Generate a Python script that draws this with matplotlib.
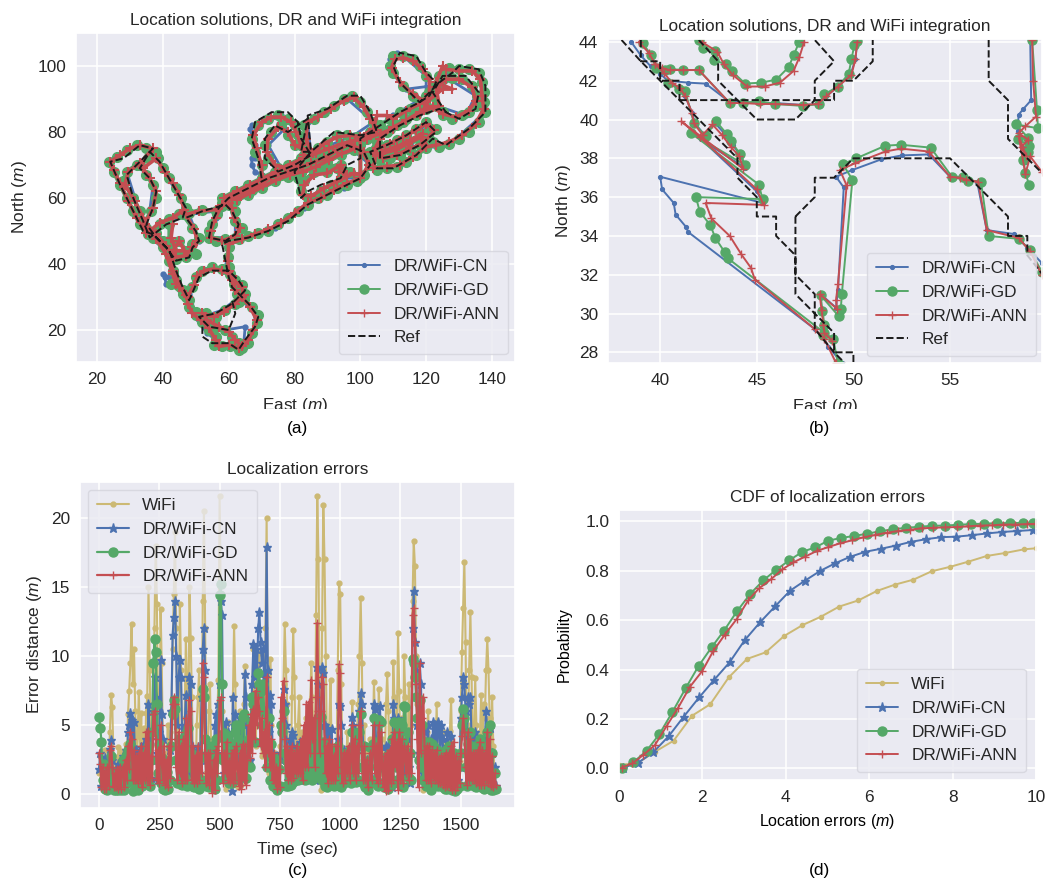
import numpy as np
import matplotlib
matplotlib.use('Agg')
import matplotlib.pyplot as plt
import seaborn as sns
from matplotlib.transforms import Bbox

sns.set_theme(style='darkgrid', color_codes=True)
plt.rcParams['font.family'] = ['Liberation Sans', 'DejaVu Sans']
plt.rcParams['mathtext.fontset'] = 'custom'
plt.rcParams['mathtext.it'] = 'Liberation Sans:italic'
plt.rcParams['mathtext.rm'] = 'Liberation Sans'

# a nan row cuts a track into separate pieces
nan = (np.nan, np.nan)

# panel a, whole route (east, north)
gd_a = [(63,14),(60.5,15),(58,15),(55.5,15.5),(56,18),(54,20),(52,22.5),(50,24.5),(48,27),(47,30),(49,33),(50,36),(52,38),(55,39),(58,38.5),(60.5,37),(62,35),(64,33.5),(65,31),(63,28.5),(62,28),(59,26),(56,24),(53,25),(50,25.5),
        (53,23),(56,21),(59,20),(61,18),(63,16),(64,14.5),(66,16),(67,19),(68.5,22),(69,24.5),(67,27),(64.5,29.5),(62.5,31),(61.5,34),(60.5,37),(60,39),(59.8,42),(60,45),(60,47),
        (63,47.5),(66,48.5),(69,49.5),(72,50),(75,52),(78,54),(81,56),(84,58),(87,60),(90,61),(93,63),(96,64),(99,65),(101,67),(103,70),(102,73),(100,76),
        (97,76),(94,75),(91,73),(88,72),(85,70),(82,69),(79,68),(76,67),(73,66),(70,64),(67,62.5),(64,61.5),(61,60.5),(58,58.5),(56.5,55),(55,52),(54,50),(54,48),(56,47),(59,47.5),(62,48),(64,51),(62,53),(62,56),(60,58),(62,60.5),(64.5,62),
        (61,60),(58,57.5),(56,56),(52,56.5),(48,55.5),(46,55),(49,51),(51,48),(49,46),(50,43),(47,42),(44,41.5),(42,44),(40,47),(38,49.5),(35.5,49),
        (33,52),(31,56),(29,60),(27,64),(25,68),(23.5,71),(26,72.5),(29,74.5),(32,76),(35,75),(38,74),(35.5,72),(32,70),(29,68),(28,65),(31,60),(33,56),(35,51),(37,49),(39,52),(42,53.5),(45,55),(47,57),(45.5,60),(44,63),(42,66),(40,69),(38.5,72),(36,74),
        (33,70),(35,67),(37,64),(38,60),(36.5,56),(34,52),(37,48),(40,45),(42,41),(43,38),(44,35),(42.5,34),(46,31),(48,29),(46,32),(43,38),(42,43),(45,47),(47,44),(45,43),(42,47),(42,52),nan,
        (70,64),(70,70),(68,74),(67,78),(69,82),(72,84),(75,85),(78,84),(80,82),(81,79),(82,76),(83,73),(84,71),(81,69),(78,68.5),(75,69),(72,72),(71,76),(73,80),(76,82),(78,79),(80,76),
        (85,73),(83,76),(83,82),(86,84),(89,86),(92,88),(95,90),(97.5,91),(100,89),(102,86),(104,83),(105,80),(102,78),(99,78.5),(96,79),(93,79),(90,77),(87,75),(85,73),
        (81,68),(81,66),(82,62),(84,60),(88,62),(91,64),(94,66),(93,69),(90,68),(86,68),(83,65),(87,69),(94,70),(97,68),(100,66),
        (100,78),(103,80),(106,82),(109,84),(112,86),(115,87),(118,89),(120,91),(122,94),(120,97),(118,100),(116,102),(113,103),(110,103),(109,100),(110,98),(113,94),(116,91),(119,89),
        (121,92),(124,97),(127,99.5),(130,99),(133,99),(136,98),(137,95),(137.5,92),(137.5,89),(138,86),(136,83),(133,80),(130,78),(127,76.5),(124,75.5),(122,77),(120,75),(117,73),(114,71),(111,69.5),(108,69),(105,68.5),(103,70),
        (105,74),(108,76),(111,77.5),(114,79),(117,81),(120,83),(123,81),(121,78),(118,76),(115,74.5),(112,73),(109,72),(106,71.5),(103,74),(105,77),(108,80),(111,82),(114,84),(117,85),(120,87),(123,88),(125,85),(128,84),(131,85),(133,86),(135,88),(135.5,91),(134,94),(131,96),(128,96.5),(125,96),(123,94),(122,91),(125,86),nan,
        (58,60),(62,62),(66,64),(70,66),(74,68),(78,70),(82,72),(86,73),(90,74.5),(94,76),(98,77),(101,78),(105,79),(109,81),(113,83),(117,86),(120,88),nan,
        (62,59),(66,61),(70,63),(74,65),(78,66.5),(82,67.5),(86,69),(90,71),(94,73),(98,74.5),nan,
        (107,74),(110,75),(114,77),(118,79),(121,81),nan,(106,73),(110,74),(114,76),(118,78)]
ann_a = [(63,14.5),(60,15.5),(57,15),(56,17),(54,20.5),(51.5,23),(49,25),(47.5,28),(47.5,30),(49.5,33.5),(50.5,36.5),(52.5,38),(55.5,38.5),(58,38),(61,36.5),(62,34.5),(64,33),(64.5,30.5),(62,28),(58.5,25.5),(55.5,24),(52,25),
         (53.5,23),(57,21),(60,19.5),(62,17),(64,15),(66,17),(67.5,20),(68.5,23),(66.5,27),(64,30),(62,32),(61,35),(60,38),(59.7,41),(60,46),
         (64,47.5),(68,49),(72,50.5),(76,52.5),(80,55.5),(84,58.5),(88,60),(92,62.5),(96,64.5),(100,66),(102.5,70),(101,74),(97,76.5),(93,74.5),(89,72),(85,70.5),(81,69),(77,67.5),(73,66.5),(69,63.5),(65,62),(61,60),(58,58),(56,54),(54.5,50),(54.5,48),(58,47),(62,48.5),(63.5,51),(61.5,54),(61,57),(60,58.5),
         (56,56.5),(51,56),(47,55),(49.5,50.5),(50.5,47),(49,45),(47,42.5),(43.5,42),(41,45.5),(38,49),(35,49.5),
         (32,54),(29.5,59),(27,64.5),(25,68.5),(24,71),(27,73),(30,75),(33,76),(37,75),(33,70.5),(29.5,68),(28.5,64),(31.5,59),(34,54),(36,50),(39,52.5),(43,54),(46.5,56.5),(45,61),(43,64.5),(40.5,68),(38,72),
         (34,69),(36,66),(38,62),(37,57),(34.5,52),(38,47.5),(41,43),(43,37),(44,34),(45,33),(47,30.5),(43,38),(42.5,43),(45,47),(46.5,44),(44,44),(42.5,48),(43,52),nan,
         (70,65),(70,70),(68.5,75),(67.5,79),(70,83),(73,84.5),(76,84.5),(79,83),(80.5,80),(82,76),(83,73),(82,70),(78,69),(74,70),(71.5,74),(72,78),(75,81.5),(78,80),(80,76),
         (85,74),(83.5,78),(84,83),(87,84.5),(91,87),(95,89.5),(98,90.5),(101,87.5),(103,84),(105,80.5),(101,78.5),(97,79),(93,78.5),(89,76.5),(85.5,73.5),nan,
         (94,70),(96,67),(93.5,68),(94,70),(90,67.5),(86,67),(83,64),(82.5,61),(85,60.5),(89,63),(93,65),(98,67.5),(100,67),
         (100,78.5),(104,81),(105,85),(108,85),(110,84),(114,86.5),(118,88.5),(121,91.5),(121,96),(119,99),(116,101.5),(113,102.5),(110.5,102),(109.5,99.5),(112,95),(116,91.5),(120,89),(125,93),(128,93),(123,95),
         (125,100),(126,99),(130,98.5),(134,98.5),(136.5,96),(137,91),(137.5,87),(135,82.5),(131,79),(127,77),(123,76),(120,75.5),(116,72.5),(112,70),(108,69.5),(104,69),
         (105,75),(109,76.5),(113,78.5),(117,80.5),(120,82.5),(122.5,80.5),(119,76.5),(115,75),(111,73),(107,72),(104,74),(106,78),(110,81.5),(114,83.5),(118,85.5),(122,87.5),(125,85.5),(129,84.5),(133,86.5),(135,89.5),(134,93.5),(130,96),(126,96),(123,93.5),(124,88),nan,
         (58.5,60),(62.5,62),(66.5,64),(70.5,66),(74.5,68),(78.5,70),(82.5,72),(86.5,73.5),(90.5,75),(94.5,76.5),(98.5,77.5),(102,78),(106,79.5),(110,81),(114,83.5),(118,86),(120.5,88),nan,
         (62.5,59.5),(66.5,61.5),(70.5,63.5),(74.5,65.5),(78.5,67),(82.5,68),(86.5,69.5),(90.5,71.5),(94.5,73.5),(98.5,75),nan,
         (107.5,74.5),(111,75.5),(115,77.5),(119,79.5),nan,(106.5,73.5),(110.5,74.5),(114.5,76.5),(118.5,78.5)]
cn_a = [(63,14),(58,15.5),(53.5,19),(48,26),(48,31),(51,37),(57,38.5),(62,35),(64.5,31),(58,26),(52,24),nan,(54,21),(59,20),(65,21),(64.5,15),(68,21),(68,25),(63,30),(60,37),(59.5,40),(60,46),(66,48),(74,51),(83,57),(91,62),(95,63),(99,65),(103,70),(96,76),(84,70),(72,66),(62,60),(56,54),(54.5,48),(62,48),(62,56),nan,
        (56,56),(48,55),(51,47),(44,41.5),(35,49),(29,60),(24,71),(32,76),(38,74),(29,68),(34,52),(36,49),(46,55),(47,57),(38,72),nan,(37,64),(36,56),nan,(40,45),(44,36),(42,36),(40,37),(40.5,36),(41,34),(44,35),(47,30),nan,
        (70,67),(68,68),(67,70),(67,72),(68,72),nan,(68,76),(67,79),(66.5,81),(67,82),(69,82),(76,85),(81,80),(84,71),(76,69),(72,76),(77,81),nan,(85,73),(84,83),(96,90),(104,83),(98,79),(86,74),nan,(84,60),(94,66),(100,66),nan,
        (100,78),(110,85),(120,91),(120,97),(113,103),(111,104),(109,102),(109,99),(114,93),(122,94),(128,99),(136,98),(138,86),(128,77),(122,76),(112,70),(104,69),nan,(104,74),(112,77),(120,83),(115,75),(105,72),nan,(105,77),(112,83),(123,88),(132,85),(135,91),(127,96),(123,92)]
ref_a = [(52,21),(52,18),(55,16),(60,16),(63,14),(65,17),(68,21),(69,24),(66,28),(63,31),(61,33),(60,36),(59,41),(58,46),(60,47),(66,48),(72,50),(78,53),(84,58),(90,61),(96,64),(100,66),(103,70),(101,74),(96,76),(90,73),(84,70),(78,68),(72,66),(66,63),(60,60),(57,57),(55,53),(54,48),(59,47),(62,49),(63,52),(61,56),(59,58),(52,56),(47,54),(50,50),(51,47),(49,45),(48,42),(44,41),(41,45),(37,49),(34,50),(31,56),(27,64),(24,71),(28,72),(33,76),(37,75),(32,70),(29,67),(31,60),(34,53),(36,48),(41,52),(46,54),(47,57),(43,64),(39,71),(36,74),(33,69),(36,66),(38,62),(37,57),(35,52),(38,48),(42,44),(44,38),(46,33),(48,29),(51,36),(55,38),(60,38),(63,35),(65,32),(61,28),(56,25),(51,24),(54,21),(60,20),(62,25),(61,29),nan,
         (70,66),(69,72),(67,78),(68,83),(73,86),(78,86),(81,83),(82,78),(85,73),(80,70),(75,68),(71,72),(71,78),(74,82),(78,80),(84,84),(82,74),(85,74),(84,85),(90,87),(96,91),(100,91),(103,86),(105,80),(100,79),(92,80),(85,74),(80,68),(82,60),(84,62),(88,64),(94,66),(96,70),(100,72),(100,78),(106,82),(112,86),(118,89),(121,91),(123,95),(120,98),(117,103),(112,104),(110,100),(112,95),(118,89),(124,95),(128,98),(130,100),(136,99),(138,94),(138,86),(133,81),(126,76),(122,78),(117,73),(110,69),(105,69),(103,74),(108,76),(114,79),(120,83),(123,80),(118,76),(112,73),(106,72),(106,78),(112,82),(118,85),(124,87),(130,84),(135,87),(136,92),(132,97),(125,97),(122,92),(126,86)]

# panel b, zoomed tracks
cn_b = [(50.2,44),(50.1,43.1),(49.85,42.3),(49.2,41.7),(48.6,41.2),(48.15,40.8),(47.4,40.75),(45.95,40.85),(45.1,40.85),(44.3,40.9),(43.6,40.9),(42.35,41.85),(41.45,41.9),(40.4,42.0),(40,42.35),(39.5,42.75),(39,43.3),(38.5,44),nan,
        (40.4,42),(41,41.5),(41.3,41.2),(41.65,40.35),(41.8,39.8),(42.3,39.2),(42.85,39.8),(43.4,39.2),(43.75,38.7),(44.2,38.1),(44.4,37.5),(41.6,39.3),(42.1,39),(45,36.3),(45.3,35.7),(40,37.05),(40.1,36.4),(40.7,35.7),(40.8,35.1),(41.35,34.45),(41.45,34.2),(48,29.2),(48.4,28.8),(48.7,28.3),(49.4,27.45),nan,
        (48.3,31),(49.1,30.3),(49.2,31.2),(49.5,36.5),(49.1,37.05),(49.95,37.4),(51.45,37.95),(52.5,38.15),(53.9,38.2),(55,37.05),(55.6,36.95),(56.4,36.8),(56.9,34.3),(58.3,34.1),(59,33.4),(59.75,32.6),nan,
        (59.15,44.1),(59.2,41),(58.8,40.55),(58.55,40.25),(58.5,39.4),(58.7,38.6),(59,38.2),(58.9,37.8)]
gd_b = [(47.2,44),(46.9,43.3),(46.65,42.7),(46,42.05),(45.2,41.9),(44.4,41.85),(43.7,42.5),(43.4,42.85),(42.8,43.05),(42.85,43.55),(42.2,43.7),(42,44.1),nan,
        (50.2,44.05),(50.05,43.85),(49.9,43.1),(49.75,42.35),(49.2,41.7),(48.5,41.3),(48.2,40.8),(47.4,40.7),(45.95,40.8),(45.1,40.95),(44.3,40.85),(43.6,40.85),(42,42.55),(41.2,42.55),(40.5,42.6),(40.25,42.55),(39.8,42.65),(39.5,43.35),(39.1,43.95),nan,
        (40.4,41.9),(41,41.55),(41.3,41.45),(41.75,39.8),(42.35,39.15),(42.9,39.9),(43.45,39.25),(43.65,38.9),(44.15,38.2),(44.4,37.65),(41.6,39.3),(45.1,36.65),(45.3,35.9),(41.85,36),(42.05,35.25),(42.6,34.55),(42.85,33.9),(43.35,33.15),(43.5,32.85),(48.5,29),(48.95,28.7),(49.2,27.45),nan,
        (48.45,28.9),(48.5,29.4),(48.4,30.15),(48.3,30.95),(49.25,29.85),(49.35,30.25),(49.4,31),(49.95,36.9),(49.45,37.7),(50.15,38),(51.65,38.65),(52.45,38.7),(54,38.55),(55.1,37.05),(55.65,37.05),(55.95,36.85),(56.6,36.8),(57,34),(58.55,33.85),(59.15,33.25),(59.75,32.15),nan,
        (59.25,44.1),(59.5,40.5),(59.55,39.55),(58.4,39.75),(59.05,39.05),(58.5,39),(59.1,38.65),(59.05,38.35),(58.8,37.9),(58.9,37.25),(59.1,36.6)]
ann_b = [(47.45,44),(47.2,43.2),(46.9,42.5),(46.2,41.9),(45.4,41.7),(44.5,41.7),(43.75,42.3),(43.3,42.85),(42.95,43.5),(42.15,44),nan,
         (50.2,44),(50.1,43.1),(49.9,42.3),(49.2,41.7),(48.6,41.2),(48.15,40.8),(47.4,40.75),(45.95,40.8),(45.15,40.8),(44.3,40.85),(43.6,40.85),(42,42.55),(41.2,42.55),(40.5,42.55),(40.1,42.65),(39.75,42.85),(39.4,43.45),(38.9,44),nan,
         (39.75,42.85),(40.2,42.4),(40.6,41.9),(41.05,41.6),(41.3,41.2),(41.65,40.35),(41.75,39.8),(42.2,39.2),(42.7,39.75),(43.2,39.2),(43.65,38.6),(44.1,38.1),(44.3,37.45),(41.1,39.9),(42.05,39.1),(45,36.4),(45.35,35.6),(42.35,35.7),(42.65,34.9),(43.6,34),(44.2,33.05),(44.7,32.35),(44.9,31.75),(48,29.2),(48.5,28.7),(49.1,27.45),nan,
         (48.9,28.6),(48.5,29),(48.45,29.4),(48.35,30.2),(48.25,31),(49.15,30.25),(49.1,30.7),(49.2,31.5),(49.65,36.6),(49.3,37.4),(50.1,37.75),(51.65,38.35),(52.45,38.5),(53.9,38.35),(55,37.05),(55.5,37),(55.85,36.9),(56.45,36.8),(56.9,34.3),(58.55,33.9),(59.15,33.2),(59.75,32),nan,
         (59.25,44.1),(59.3,42),(59.45,40.15),(58.9,39.65),(58.55,39.3),(59.05,38.95),(58.7,38.6),(58.95,38.1),(58.55,39.15),(58.9,37.2),(59.15,38.1),(59.75,37.3)]
ref_b = [(38,44.1),(39,43),(40,42),(41,41),(42,40),(43,39),(44,38),(44,37),(45,36),(45,35),(46,35),(46,34),(47,33),(47,31),(48,30),(49,29),(49,28),(50,28),(50,27.4),nan,
         (47,35),(48,36),(48,37),(49,37),(50,38),(55,38),(58,35),(58,34),(59,34),(59,33),(59.8,32),nan,
         (47,35),(47,32),(48,31),(48,29.2),(49,28),(49.6,27.4),nan,
         (42,44.1),(43,43),(43,42),(44,41),(45,40),(47,40),(48,41),(48,42),(49,43),(48,44.1),nan,
         (41,41),(49,41),(49,42),(50,42),(51,43),(51,44.1),nan,
         (39,44.1),(39,43),(40,43),(40,42),(41,42),(41,41),nan,
         (57,44.1),(57,42),(58,41),(58,39),(59.8,37.2)]

# panel c, error in metres, one value every 5 s, one row = 100 s
wifi_err = [1.5,2.8,0.6,2.2,0.9,3.2,0.3,2.6,1.2,4.5,7.2,6.3,2.4,0.5,2.7,1.1,3.4,0.6,3.1,0.8,
            2.9,0.5,3.6,1.5,5.8,7.5,9.5,12.3,8.0,10.5,6.0,2.3,4.2,7.4,3.0,5.9,1.2,4.8,2.1,5.9,
            7.1,15.0,9.0,3.5,1.0,6.5,12.0,18.0,13.8,5.0,2.2,13.4,9.5,3.0,1.5,0.6,2.4,5.0,1.0,4.5,
            6.0,10.5,14.5,19.0,12.0,3.5,0.6,13.8,9.0,2.8,0.7,5.5,11.2,8.0,3.4,15.0,11.3,7.0,2.0,1.0,
            0.4,5.0,7.0,9.0,3.2,1.0,14.0,20.5,12.0,1.5,3.0,6.0,8.0,3.0,0.5,3.0,0.6,2.5,5.5,8.3,
            21.6,14.0,6.0,1.0,3.5,0.4,3.0,5.2,0.8,3.2,1.0,7.0,12.2,8.0,2.0,0.5,2.2,6.0,0.7,3.0,
            6.5,9.3,5.0,1.0,4.5,2.5,4.0,7.0,10.5,6.0,3.5,8.0,9.5,10.2,6.0,2.8,5.0,3.5,12.0,20.0,
            6.0,1.5,9.8,5.0,2.0,0.7,3.0,0.5,1.5,0.6,3.5,2.8,5.2,8.0,12.3,9.0,6.5,1.2,4.0,0.5,
            7.0,11.9,8.5,3.5,1.5,5.0,7.0,2.0,4.5,1.0,3.0,1.2,5.5,2.0,4.2,6.0,9.5,7.0,3.0,1.0,
            13.0,21.6,17.0,6.0,0.3,12.0,20.9,17.0,10.0,3.5,1.0,5.0,8.3,2.5,0.6,3.5,1.5,3.0,9.0,15.3,
            14.5,8.0,1.0,3.0,0.8,2.4,4.5,1.2,3.5,1.0,6.7,3.0,1.5,4.0,4.6,6.5,10.0,14.2,9.5,2.5,
            5.0,1.2,3.0,0.3,2.0,4.0,1.0,3.5,8.1,5.0,0.5,3.0,7.6,5.5,1.5,4.0,0.8,2.6,6.5,8.7,
            6.0,1.5,5.0,0.6,9.6,7.0,3.0,5.0,11.7,7.5,2.0,5.5,1.0,10.0,7.0,2.5,3.5,8.0,1.0,5.0,
            14.0,18.3,16.5,10.0,6.5,3.0,7.0,1.5,4.0,0.3,2.6,1.0,4.5,6.0,2.0,0.3,3.5,1.0,5.0,2.0,
            6.5,2.8,4.5,0.8,3.0,1.5,4.5,0.6,2.0,3.5,1.0,4.6,6.8,3.0,0.5,2.0,1.0,3.0,0.7,2.4,
            6.0,10.3,13.5,16.8,11.0,2.0,5.0,9.0,13.2,8.5,2.6,4.0,8.4,5.0,1.5,3.5,4.5,7.2,3.0,6.5,
            5.5,9.0,11.2,9.0,5.5,2.0,7.0,3.5,1.5,0.5]
cn_err = [1.8,3.0,0.6,2.4,0.8,2.6,0.5,2.2,1.0,3.3,3.9,2.5,1.0,0.4,1.8,0.6,2.2,0.5,1.9,0.7,
          2.8,0.6,3.2,1.5,4.5,5.0,5.9,5.4,3.4,5.2,2.0,3.2,1.0,3.0,1.5,3.4,0.8,3.6,1.2,4.0,
          3.0,6.5,4.0,1.2,2.5,6.0,8.5,7.0,3.0,1.0,4.5,9.7,5.8,4.0,1.0,0.6,2.0,1.0,2.6,3.2,
          6.0,11.5,12.8,14.0,10.0,5.0,8.5,9.7,8.5,4.0,1.5,5.0,7.2,4.5,1.5,8.5,8.0,3.5,1.0,2.5,
          0.8,2.8,3.4,1.5,3.0,7.0,10.5,12.0,9.0,2.5,1.2,3.0,1.0,3.0,0.7,2.5,5.0,5.8,3.0,6.5,
          8.0,14.0,13.0,4.5,1.5,5.2,3.0,4.5,1.0,3.0,0.2,7.0,5.0,5.8,3.0,4.8,1.0,5.5,1.2,3.0,
          5.0,8.7,7.0,3.5,4.0,2.5,5.5,8.0,10.9,8.5,10.5,9.0,12.0,13.2,11.0,9.5,10.5,8.0,8.5,17.9,
          9.0,4.5,7.2,6.5,3.0,1.2,2.5,0.6,2.0,0.5,3.0,2.5,5.0,7.6,6.5,5.0,3.0,1.0,4.0,1.5,
          4.5,4.3,3.0,1.5,3.5,1.2,2.5,3.8,2.0,3.5,1.0,3.0,1.5,2.8,4.0,1.0,1.5,2.5,4.5,1.0,
          4.0,9.2,8.0,5.0,2.0,9.2,8.8,5.0,3.0,4.8,1.0,4.5,1.5,4.7,1.0,3.0,1.2,2.0,4.0,6.5,
          6.4,5.0,1.0,3.2,0.9,2.5,1.2,3.0,1.2,2.5,5.6,5.0,1.5,3.0,4.0,2.0,6.0,7.3,6.5,3.5,
          2.0,1.0,2.5,0.7,1.8,3.5,1.2,3.0,6.5,6.2,3.0,1.0,5.5,6.4,3.5,2.5,0.6,2.0,3.5,1.5,
          3.5,1.0,3.0,0.5,6.5,5.5,3.0,4.5,5.5,3.5,1.0,4.0,0.7,3.5,1.5,3.0,4.0,2.0,0.8,3.0,
          12.0,14.7,11.0,9.0,5.0,3.0,9.5,8.0,4.0,1.5,4.5,1.0,3.5,5.0,1.5,4.0,1.0,5.2,3.0,5.0,
          3.0,5.2,4.5,2.5,5.0,4.0,2.0,1.0,3.5,4.5,3.0,2.0,4.2,1.5,0.5,2.0,0.8,2.5,1.0,2.0,
          5.5,7.0,8.5,8.0,6.0,3.0,7.0,6.5,7.0,4.0,1.5,3.0,4.5,3.0,1.2,2.5,3.0,2.2,1.0,3.5,
          4.0,6.0,4.5,3.0,4.8,1.0,3.0,1.5,2.0,0.6]
gd_err = [5.6,4.8,3.8,1.0,2.2,0.4,1.8,0.3,1.5,0.6,2.8,1.0,0.3,1.5,0.3,1.4,0.3,1.6,0.3,1.2,
          2.5,0.3,2.8,0.8,3.2,1.0,3.6,1.5,0.2,2.2,0.4,2.4,0.3,1.6,0.8,2.6,0.6,2.4,1.0,3.0,
          1.0,3.5,0.6,2.5,4.5,9.5,11.2,10.3,6.5,1.5,3.6,0.8,2.6,0.4,2.2,0.3,1.6,0.4,2.4,1.0,
          3.5,5.8,6.8,6.2,2.5,0.8,4.0,1.0,3.0,0.7,3.6,1.2,4.4,0.6,4.8,2.0,3.0,0.6,2.8,0.5,
          2.2,0.5,2.8,0.4,2.6,1.0,7.6,7.0,4.0,0.6,3.0,0.5,2.8,3.5,0.8,2.4,0.4,4.0,1.0,2.6,
          14.4,15.2,8.0,2.5,4.4,1.2,2.8,4.2,0.8,3.0,0.8,3.6,1.0,4.5,5.0,4.0,5.0,1.4,3.2,5.6,
          5.8,3.4,1.2,2.2,4.0,2.0,5.2,7.0,6.5,3.8,7.2,6.0,8.8,8.0,7.5,5.0,8.0,6.0,3.5,2.0,
          2.8,5.5,1.0,3.6,0.6,2.6,0.5,2.4,0.3,1.8,0.6,5.0,4.5,6.0,3.0,0.6,2.4,0.6,3.0,0.7,
          3.0,0.9,2.6,1.0,3.0,1.0,2.8,1.2,3.4,1.2,3.0,1.0,3.4,1.5,3.5,1.2,3.6,1.0,5.0,1.3,
          4.5,1.3,5.5,1.2,5.6,1.0,3.8,0.6,3.0,0.5,2.5,0.7,3.2,0.8,2.0,0.6,2.5,0.7,3.5,1.0,
          3.0,0.5,2.8,0.8,2.6,1.0,3.0,1.0,3.2,0.8,4.5,1.0,3.6,0.9,4.0,1.0,4.5,5.8,2.0,0.8,
          3.5,0.5,2.4,0.3,2.0,3.4,0.8,3.6,5.5,1.0,3.8,0.6,5.4,0.8,5.2,2.0,0.5,2.4,0.5,2.8,
          0.4,3.0,0.7,4.0,1.0,5.2,2.0,4.6,0.8,5.2,1.2,5.0,0.5,6.4,6.3,2.5,4.5,1.2,3.0,1.0,
          9.8,9.5,8.5,7.0,5.5,2.5,6.8,2.0,5.0,1.0,3.8,0.6,3.0,0.8,3.8,0.3,3.6,1.0,3.4,0.8,
          3.2,0.6,2.8,0.7,2.6,0.5,2.4,0.4,3.2,0.4,3.5,0.6,2.8,0.3,3.0,0.2,2.5,0.4,2.0,0.6,
          3.0,5.0,6.2,5.5,2.0,0.6,3.6,0.8,4.5,1.0,3.0,0.6,3.5,0.5,2.8,0.6,4.0,0.5,3.0,0.4,
          3.5,0.7,4.5,0.5,5.0,0.3,3.0,0.3,1.5,0.4]
ann_err = [3.0,2.2,0.5,2.0,0.4,1.7,0.4,2.0,0.6,3.2,3.5,2.0,0.5,1.5,0.5,1.8,0.4,2.0,0.4,1.6,
           2.0,0.5,2.5,1.0,3.5,1.8,4.5,4.0,1.0,3.2,1.0,2.8,0.8,3.0,1.0,3.5,0.5,3.0,1.0,4.5,
           1.0,4.6,0.7,2.8,1.2,5.8,6.0,4.0,1.0,3.2,0.8,5.0,2.4,1.0,3.5,0.7,2.5,0.5,3.5,1.2,
           4.0,6.5,7.0,6.5,2.0,1.0,4.5,1.5,3.5,0.8,4.0,1.0,5.5,1.0,5.0,6.8,6.0,1.0,3.5,0.8,
           2.8,0.8,3.5,1.0,3.0,1.5,9.5,8.5,3.0,0.8,3.0,0.7,3.0,1.5,0.1,2.5,0.3,3.2,1.5,3.5,
           6.8,7.0,3.0,0.8,3.0,1.5,3.8,1.0,2.4,0.9,3.0,0.8,3.2,1.0,3.5,2.0,0.6,3.0,0.4,3.6,
           1.0,3.5,0.7,2.5,5.0,2.6,5.8,3.0,6.2,4.0,7.5,5.0,7.0,6.0,3.5,5.5,3.0,4.5,2.0,8.5,
           3.0,5.0,2.0,4.0,1.0,3.0,0.8,2.0,0.4,1.8,0.5,7.0,5.5,8.2,4.0,1.5,3.5,1.0,3.2,1.0,
           3.5,1.2,3.0,1.5,3.5,1.5,3.2,1.5,4.0,1.0,5.0,2.0,6.5,2.0,6.7,3.0,8.3,4.0,5.5,2.0,
           7.0,12.4,6.0,3.0,6.0,8.5,8.0,4.0,1.5,3.5,0.8,4.0,1.0,3.6,1.0,2.8,1.0,3.5,1.5,9.4,
           8.8,2.0,0.8,3.0,1.0,3.0,1.5,3.5,1.0,2.6,5.0,1.5,4.0,1.0,3.5,1.5,5.0,6.0,3.0,1.0,
           3.5,1.0,2.5,0.5,2.0,3.0,1.0,3.5,5.0,1.5,3.5,0.8,5.0,1.0,4.5,2.0,0.5,2.8,0.2,3.0,
           0.3,3.2,0.8,4.0,1.0,4.5,2.0,3.8,0.3,4.5,1.0,4.0,0.8,3.5,3.0,1.5,3.5,1.0,3.0,1.5,
           13.0,13.5,11.0,8.0,4.0,0.5,9.5,3.0,5.5,7.0,3.2,1.0,3.5,1.0,3.5,0.8,3.2,1.2,3.0,1.0,
           3.2,0.8,2.6,0.8,2.8,0.7,2.8,0.5,3.0,0.6,3.0,0.5,3.5,0.3,3.8,0.3,2.8,0.5,2.4,0.8,
           3.0,4.2,5.5,4.5,2.0,0.7,4.5,1.0,4.0,1.0,3.0,1.0,3.0,0.8,3.2,0.7,3.8,0.7,3.2,0.7,
           3.0,1.0,4.5,0.8,4.0,0.6,2.8,0.5,1.5,0.7]

# panel d, cdf
wifi_x = [0,0.43,0.86,1.31,1.75,2.19,2.63,3.07,3.52,3.96,4.40,4.84,5.28,5.74,6.18,6.62,7.06,7.50,7.94,8.38,8.82,9.26,9.72,10.0]
wifi_p = [.015,.02,.067,.112,.213,.26,.368,.443,.47,.536,.58,.614,.655,.68,.718,.744,.764,.798,.816,.837,.86,.872,.887,.891]
cn_x = [.10,.46,.82,1.19,1.55,1.92,2.28,2.65,3.01,3.38,3.75,4.10,4.46,4.82,5.18,5.55,5.91,6.28,6.64,7.00,7.37,7.73,8.09,8.46,8.82,9.19,9.55,9.92]
cn_p = [.003,.023,.065,.130,.209,.287,.358,.429,.518,.591,.657,.719,.760,.799,.830,.857,.877,.889,.902,.917,.928,.936,.938,.944,.951,.957,.961,.965]
gd_x = [.06,.34,.66,.97,1.28,1.60,1.91,2.22,2.52,2.83,3.15,3.46,3.77,4.08,4.40,4.71,5.02,5.33,5.64,5.95,6.26,6.57,6.89,7.19,7.50,7.81,8.13,8.44,8.75,9.06,9.38,9.68,9.94]
gd_p = [0,.024,.071,.139,.228,.325,.415,.490,.558,.636,.707,.761,.804,.842,.877,.895,.922,.933,.941,.950,.960,.968,.974,.978,.982,.983,.986,.989,.990,.993,.993,.994,.994]
ann_x = [.06,.32,.58,.86,1.14,1.42,1.70,2.0,2.26,2.54,2.82,3.10,3.36,3.64,3.92,4.18,4.46,4.74,5.02,5.30,5.58,5.86,6.14,6.42,6.70,6.98,7.26,7.54,7.82,8.10,8.38,8.66,8.94,9.22,9.50,9.78,9.98]
ann_p = [.003,.020,.054,.094,.171,.246,.330,.395,.475,.542,.604,.681,.729,.765,.806,.834,.857,.880,.896,.911,.923,.935,.945,.954,.961,.966,.972,.974,.976,.977,.980,.983,.984,.987,.987,.989,.990]

W, H = 1050, 882
fig = plt.figure(figsize=(W / 100, H / 100), dpi=100, facecolor='white')

def new_axes(left, top, right, bottom):
    return fig.add_axes([left / W, 1 - bottom / H, (right - left) / W, (bottom - top) / H])

def track(ax, pts, fmt, label, **kw):
    pts = np.array(pts, dtype=float)
    ax.plot(pts[:, 0], pts[:, 1], fmt, label=label, **kw)

CN = dict(lw=1.4, ms=5.5)
GD = dict(lw=1.4, ms=6.5)
ANN = dict(lw=1.4, ms=6, mew=1)
FS = 12.4

def dress(ax, title, xlabel, ylabel, legend_at, xpad, ypad, size=FS, color='.15'):
    ax.grid(True, color='white', lw=1.1)
    ax.tick_params(labelsize=FS, length=0, pad=7, colors='.15')
    ax.set_title(title, fontsize=FS, color='.15', pad=6)
    ax.set_xlabel(xlabel, fontsize=size, color=color, labelpad=xpad)
    ax.set_ylabel(ylabel, fontsize=size, color=color, labelpad=ypad)
    anchor = (legend_at[0] / W, 1 - legend_at[1] / H)
    leg = ax.legend(loc='lower left', bbox_to_anchor=anchor, bbox_transform=fig.transFigure,
                    fontsize=FS, frameon=True, framealpha=0.8, borderaxespad=0, borderpad=0.5,
                    labelspacing=0.5, handlelength=1.9, handletextpad=0.75)
    leg.get_frame().set_edgecolor('#d4d4dc')
    return leg

# (a)
ax = new_axes(76, 33, 515, 362)
track(ax, cn_a, 'b.-', 'DR/WiFi-CN', lw=2, ms=7)
track(ax, gd_a, 'go-', 'DR/WiFi-GD', lw=3, ms=7)
track(ax, ann_a, 'r+-', 'DR/WiFi-ANN', lw=2.6, ms=7, mew=1.5)
track(ax, ref_a, 'k--', 'Ref', lw=1.4)
ax.set_xlim(13.6, 147)
ax.set_ylim(10.3, 110)
ax.set_xticks([20, 40, 60, 80, 100, 120, 140])
ax.set_yticks([20, 40, 60, 80, 100])
leg = dress(ax, 'Location solutions, DR and WiFi integration', r'East ($m$)', r'North ($m$)', (339, 354), 7, 6)
# the routes are drawn heavy here, the legend keeps the thin keys
for line, style in zip(leg.get_lines(), [CN, GD, ANN]):
    line.set_linewidth(style['lw'])
    line.set_markersize(style['ms'])
    line.set_markeredgewidth(style.get('mew', 1))
ax.xaxis.label.set_clip_box(Bbox([[0, H - 409], [W, H]]))
ax.xaxis.label.set_clip_on(True)

# (b)
ax = new_axes(608, 39, 1042, 363)
track(ax, cn_b, 'b.-', 'DR/WiFi-CN', **CN)
track(ax, gd_b, 'go-', 'DR/WiFi-GD', **GD)
track(ax, ann_b, 'r+-', 'DR/WiFi-ANN', **ANN)
track(ax, ref_b, 'k--', 'Ref', lw=1.4)
ax.set_xlim(37.3, 59.76)
ax.set_ylim(27.45, 44.15)
ax.set_xticks([40, 45, 50, 55])
ax.set_yticks(range(28, 46, 2))
dress(ax, 'Location solutions, DR and WiFi integration', r'East ($m$)', r'North ($m$)', (867, 356), 6.5, 4.5)
ax.xaxis.label.set_clip_box(Bbox([[0, H - 409], [W, H]]))
ax.xaxis.label.set_clip_on(True)

# (c)
t = np.arange(len(wifi_err)) * 5
ax = new_axes(80, 482, 515, 808)
ax.plot(t, wifi_err, 'y.-', label='WiFi', lw=1.5, ms=7)
ax.plot(t, cn_err, 'b*-', label='DR/WiFi-CN', lw=1.5, ms=6.5)
ax.plot(t, gd_err, 'go-', label='DR/WiFi-GD', lw=1.6, ms=6.5)
ax.plot(t, ann_err, 'r+-', label='DR/WiFi-ANN', lw=1.6, ms=6, mew=1)
ax.set_xlim(-79, 1725)
ax.set_ylim(-1.0, 22.6)
ax.set_xticks([0, 250, 500, 750, 1000, 1250, 1500])
ax.set_yticks([0, 5, 10, 15, 20])
dress(ax, 'Localization errors', r'Time ($sec$)', r'Error distance ($m$)', (88, 593), 5.5, 5)

# (d)
ax = new_axes(619, 510, 1036, 780)
ax.plot(wifi_x, wifi_p, 'y.-', label='WiFi', lw=1.4, ms=6)
ax.plot(cn_x, cn_p, 'b*-', label='DR/WiFi-CN', lw=1.4, ms=6.5)
ax.plot(gd_x, gd_p, 'go-', label='DR/WiFi-GD', **GD)
ax.plot(ann_x, ann_p, 'r+-', label='DR/WiFi-ANN', **ANN)
ax.set_xlim(0, 10)
ax.set_ylim(-0.047, 1.046)
ax.set_xticks([0, 2, 4, 6, 8, 10])
ax.set_yticks([0, 0.2, 0.4, 0.6, 0.8, 1.0])
dress(ax, 'CDF of localization errors', r'Location errors ($m$)', 'Probability', (857, 772), 5, 9.5, size=11.5, color='black')

for label, x, y in [('(a)', 297, 428), ('(b)', 819, 428), ('(c)', 298, 870), ('(d)', 819, 870)]:
    fig.text(x / W, 1 - y / H, label, ha='center', va='center', fontsize=FS, color='black')

fig.savefig('out.png', dpi=100)
